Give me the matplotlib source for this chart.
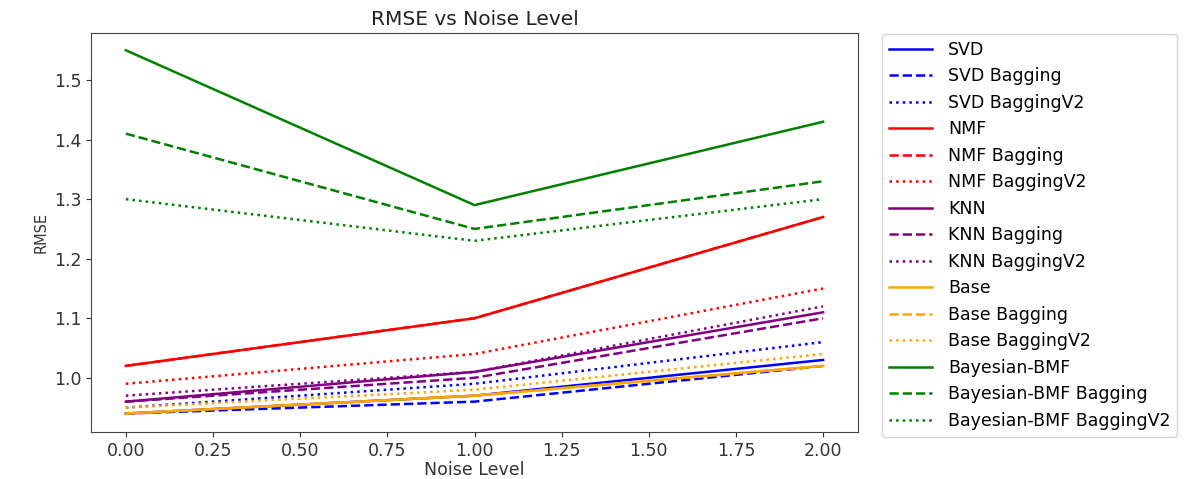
import matplotlib
matplotlib.use("Agg")
import matplotlib.pyplot as plt

noise = [0.0, 1.0, 2.0]
svd = [0.94, 0.97, 1.03]
svd_bag = [0.94, 0.96, 1.02]
svd_v2 = [0.95, 0.99, 1.06]
nmf = [1.02, 1.10, 1.27]
nmf_bag = [1.02, 1.10, 1.27]
nmf_v2 = [0.99, 1.04, 1.15]
knn = [0.96, 1.01, 1.11]
knn_bag = [0.96, 1.00, 1.10]
knn_v2 = [0.97, 1.01, 1.12]
base = [0.94, 0.97, 1.02]
base_bag = [0.94, 0.97, 1.02]
base_v2 = [0.95, 0.98, 1.04]
bmf = [1.55, 1.29, 1.43]
bmf_bag = [1.41, 1.25, 1.33]
bmf_v2 = [1.30, 1.23, 1.30]

series = [
    ("SVD", svd, "blue", "-"),
    ("SVD Bagging", svd_bag, "blue", "--"),
    ("SVD BaggingV2", svd_v2, "blue", ":"),
    ("NMF", nmf, "red", "-"),
    ("NMF Bagging", nmf_bag, "red", "--"),
    ("NMF BaggingV2", nmf_v2, "red", ":"),
    ("KNN", knn, "purple", "-"),
    ("KNN Bagging", knn_bag, "purple", "--"),
    ("KNN BaggingV2", knn_v2, "purple", ":"),
    ("Base", base, "orange", "-"),
    ("Base Bagging", base_bag, "orange", "--"),
    ("Base BaggingV2", base_v2, "orange", ":"),
    ("Bayesian-BMF", bmf, "green", "-"),
    ("Bayesian-BMF Bagging", bmf_bag, "green", "--"),
    ("Bayesian-BMF BaggingV2", bmf_v2, "green", ":"),
]

fig = plt.figure(figsize=(12.04, 4.79), dpi=100)
ax = fig.add_axes([91/1204, 1-432/479, (858-91)/1204, (432-33)/479])
for label, vals, c, ls in series:
    ax.plot(noise, vals, color=c, linestyle=ls, label=label, linewidth=1.8)

ax.set_ylim(0.909, 1.579)
ax.set_xlim(-0.1, 2.1)
ax.set_xticks([0, 0.25, 0.5, 0.75, 1.0, 1.25, 1.5, 1.75, 2.0])
ax.set_yticks([1.0, 1.1, 1.2, 1.3, 1.4, 1.5])
ax.tick_params(labelsize=12.5, colors="#333333", labelcolor="#333333")
for s in ax.spines.values():
    s.set_color("#444444")
ax.set_title("RMSE vs Noise Level", fontsize=14.5, color="#222222")
ax.set_xlabel("Noise Level", fontsize=12.5, labelpad=1, color="#333333")
ax.set_ylabel("RMSE", fontsize=10.5, color="#333333")
ax.legend(loc="upper left", bbox_to_anchor=(1.02, 1.02), fontsize=12.5,
          handlelength=2.5, handletextpad=0.9, labelspacing=0.49)
fig.savefig("out.png", dpi=100)
